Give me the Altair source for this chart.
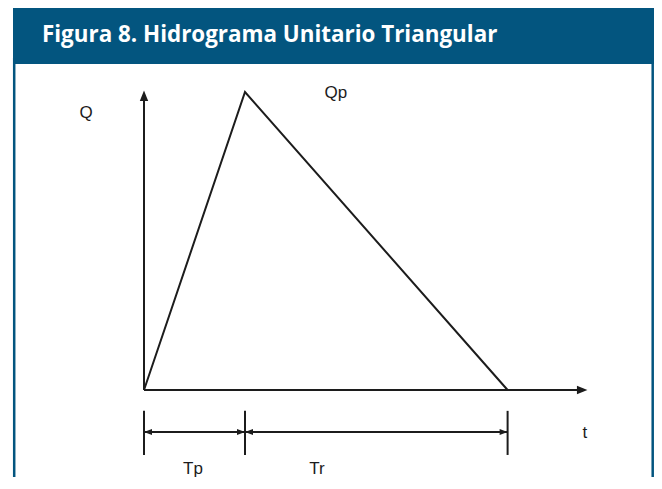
import altair as alt
import pandas as pd

# ---- data (units: Tp = 1, Qp = 1) ----
TP = 1.0
TR = 2.6
QP = 1.0
tri_t = [0.0, TP, TP + TR]
tri_q = [0.0, QP, 0.0]

axis_y_top = 1.005      # tip of the Q axis arrow
axis_x_end = 4.39       # tip of the t axis arrow
dim_level = -0.141      # level of the dimension line
tick_lo, tick_hi = -0.218, -0.070
tick_t = [0.0, TP, TP + TR]

label_text = ["Q", "Qp", "t", "Tp", "Tr"]
label_t = [-0.574, 1.90, 4.366, 0.485, 1.713]
label_q = [0.930, 0.997, -0.144, -0.264, -0.264]

TITLE = "Figura 8. Hidrograma Unitario Triangular"

# ---- layout (pixels) ----
W, H = 646, 469
BLUE = "#03557f"
INK = "#1c1c1c"
ox, oy = 136, 382          # origin in chart pixels
px_t, px_q = 101.0, 298.0  # pixels per unit
x_dom = [-ox / px_t, (W - ox) / px_t]
y_dom = [(oy - H) / px_q, oy / px_q]

X = lambda f: alt.X(f, type="quantitative", scale=alt.Scale(domain=x_dom, nice=False, zero=False), axis=None)
Y = lambda f: alt.Y(f, type="quantitative", scale=alt.Scale(domain=y_dom, nice=False, zero=False), axis=None)

tri = pd.DataFrame({"t": tri_t, "q": tri_q, "o": [0, 1, 2]})
triangle = alt.Chart(tri).mark_line(color=INK, strokeWidth=2).encode(
    x=X("t"), y=Y("q"), order="o:Q")

axes_df = pd.DataFrame({"t": [0.0, 0.0], "q": [0.0, 0.0],
                        "t2": [0.0, axis_x_end - 0.05], "q2": [axis_y_top - 0.02, 0.0]})
axes = alt.Chart(axes_df).mark_rule(color=INK, strokeWidth=2).encode(
    x=X("t"), y=Y("q"), x2="t2", y2="q2")

up = alt.Chart(pd.DataFrame({"t": [0.0], "q": [axis_y_top]})).mark_point(
    shape="M0,-1L0.8,1L-0.8,1Z", size=110, filled=True, color=INK, opacity=1, yOffset=5.2
).encode(x=X("t"), y=Y("q"))
right = alt.Chart(pd.DataFrame({"t": [axis_x_end], "q": [0.0]})).mark_point(
    shape="M1,0L-1,0.8L-1,-0.8Z", size=110, filled=True, color=INK, opacity=1, xOffset=-5.2
).encode(x=X("t"), y=Y("q"))

dim_df = pd.DataFrame({"t": [0.0], "t2": [TP + TR], "q": [dim_level]})
dim_line = alt.Chart(dim_df).mark_rule(color=INK, strokeWidth=2).encode(
    x=X("t"), x2="t2", y=Y("q"))

ticks_df = pd.DataFrame({"t": tick_t, "q": [tick_lo] * 3, "q2": [tick_hi] * 3})
ticks = alt.Chart(ticks_df).mark_rule(color=INK, strokeWidth=2).encode(
    x=X("t"), y=Y("q"), y2="q2")

left_heads = alt.Chart(pd.DataFrame({"t": [0.0, TP], "q": [dim_level] * 2})).mark_point(
    shape="M-1,0L1,0.75L1,-0.75Z", size=64, filled=True, color=INK, opacity=1, xOffset=4
).encode(x=X("t"), y=Y("q"))
right_heads = alt.Chart(pd.DataFrame({"t": [TP, TP + TR], "q": [dim_level] * 2})).mark_point(
    shape="M1,0L-1,0.75L-1,-0.75Z", size=64, filled=True, color=INK, opacity=1, xOffset=-4
).encode(x=X("t"), y=Y("q"))

labels = alt.Chart(pd.DataFrame({"txt": label_text, "t": label_t, "q": label_q})).mark_text(
    font="Liberation Sans", fontSize=17, color=INK, align="center", baseline="middle"
).encode(x=X("t"), y=Y("q"), text="txt:N")

header = alt.Chart(pd.DataFrame({"a": [0]})).mark_rect(color=BLUE).encode(
    x=alt.value(5), x2=alt.value(W), y=alt.value(-1), y2=alt.value(56))
borders = alt.Chart(pd.DataFrame({"xp": [6.2, W - 1.3]})).mark_rule(color=BLUE, strokeWidth=2.5).encode(
    x=alt.X("xp:Q", scale=None), y=alt.value(50), y2=alt.value(H + 5))
title = alt.Chart(pd.DataFrame({"txt": [TITLE]})).mark_text(
    font="Open Sans", fontWeight="bold", fontSize=22.4, color="white", align="left", baseline="alphabetic"
).encode(x=alt.value(34), y=alt.value(34), text="txt:N")

chart = alt.layer(
    header, borders, title, triangle, axes, up, right, dim_line, ticks, left_heads, right_heads, labels
).properties(
    width=W, height=H, padding=0, autosize=alt.AutoSizeParams(type="none")
).configure_view(strokeWidth=0)

chart.save("out.html", embed_options={"renderer": "svg", "actions": False})
